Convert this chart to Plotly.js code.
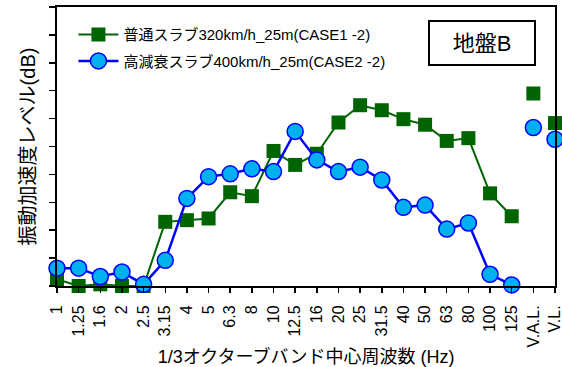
<!DOCTYPE html>
<html>
<head>
<meta charset="utf-8">
<script src="https://cdn.plot.ly/plotly-3.0.1.min.js"></script>
<style>
  html, body { margin: 0; padding: 0; background: #fff; }
  #chart { width: 562px; height: 367px; }
</style>
</head>
<body>
<div id="chart"></div>
<script>
// 1/3 octave band centre frequencies (Hz)
const bands = ['1', '1.25', '1.6', '2', '2.5', '3.15', '4', '5', '6.3', '8', '10', '12.5',
               '16', '20', '25', '31.5', '40', '50', '63', '80', '100', '125'];
// overall evaluation values
const evalLabels = ['V.A.L.', 'V.L.'];

// 普通スラブ 320km/h (CASE1-2), dB
const case1Bands = [21.2, 20.0, 20.3, 20.0, 20.0, 31.5, 31.8, 32.1, 36.8, 36.1, 44.2, 41.7,
                    43.7, 49.3, 52.4, 51.5, 49.9, 48.9, 46.0, 46.5, 36.6, 32.5];
const case1Eval = [54.5, 49.2];

// 高減衰スラブ 400km/h (CASE2-2), dB
const case2Bands = [23.2, 23.2, 21.7, 22.5, 20.3, 24.6, 35.7, 39.6, 40.1, 41.0, 40.5, 47.7,
                    42.6, 40.5, 41.3, 39.0, 34.1, 34.5, 30.2, 31.3, 22.1, 20.2];
const case2Eval = [48.4, 46.3];

const allCats = bands.concat(evalLabels);

const FONT = 'Liberation Sans, Noto Sans CJK JP, sans-serif';
const GREEN = '#006400';
const BLUE = '#0000ff';
const SKY = '#00b0f0';

const greenMarker = { symbol: 'square', size: 14, color: GREEN, line: { width: 0 } };
const blueMarker = { symbol: 'circle', size: 16, color: SKY, line: { color: BLUE, width: 1.5 } };

const traces = [
  {
    x: bands, y: case1Bands, type: 'scatter', mode: 'lines+markers',
    name: '普通スラブ320km/h_25m(CASE1 -2)', legendgroup: 'c1',
    line: { color: GREEN, width: 2 }, marker: greenMarker, cliponaxis: false
  },
  {
    x: bands, y: case2Bands, type: 'scatter', mode: 'lines+markers',
    name: '高減衰スラブ400km/h_25m(CASE2 -2)', legendgroup: 'c2',
    line: { color: BLUE, width: 2.5 }, marker: blueMarker, cliponaxis: false
  },
  {
    x: evalLabels, y: case1Eval, type: 'scatter', mode: 'markers',
    legendgroup: 'c1', showlegend: false, marker: greenMarker, cliponaxis: false
  },
  {
    x: evalLabels, y: case2Eval, type: 'scatter', mode: 'markers',
    legendgroup: 'c2', showlegend: false, marker: blueMarker, cliponaxis: false
  }
];

const layout = {
  width: 562, height: 367,
  margin: { l: 57, r: 7, t: 7, b: 81 },
  paper_bgcolor: '#fff', plot_bgcolor: '#fff',
  font: { family: FONT, color: '#000' },
  showlegend: true,
  legend: {
    x: 0.033, y: 0.96, xanchor: 'left', yanchor: 'top',
    bgcolor: 'rgba(0,0,0,0)', borderwidth: 0,
    font: { family: FONT, size: 15, color: '#000' },
    itemwidth: 40, traceorder: 'grouped', tracegroupgap: 4
  },
  xaxis: {
    type: 'category', categoryorder: 'array', categoryarray: allCats,
    range: [0, allCats.length - 1],
    tickvals: allCats, ticktext: allCats, tickangle: -90,
    ticks: 'outside', ticklen: 5, tickwidth: 1.5, tickcolor: '#000',
    ticklabelstandoff: 6,
    tickfont: { family: FONT, size: 16, color: '#000' },
    showline: true, linecolor: '#000', linewidth: 2, mirror: true,
    showgrid: false, zeroline: false,
    title: { text: '1/3オクターブバンド中心周波数 (Hz)', font: { family: FONT, size: 18 }, standoff: 8 }
  },
  yaxis: {
    range: [20, 70], dtick: 5, showticklabels: false,
    ticks: 'outside', ticklen: 6, tickwidth: 1.5, tickcolor: '#000',
    showline: true, linecolor: '#000', linewidth: 2, mirror: true,
    showgrid: false, zeroline: false,
    title: { text: '振動加速度レベル(dB)', font: { family: FONT, size: 20 }, standoff: 8 }
  },
  annotations: [{
    xref: 'paper', yref: 'paper', x: 0.853, y: 0.871,
    xanchor: 'center', yanchor: 'middle', showarrow: false,
    text: '地盤B', font: { family: FONT, size: 22, color: '#000' },
    bordercolor: '#000', borderwidth: 2, width: 102, height: 40, bgcolor: '#fff'
  }]
};

Plotly.newPlot('chart', traces, layout, { displayModeBar: false, staticPlot: true });
</script>
</body>
</html>
